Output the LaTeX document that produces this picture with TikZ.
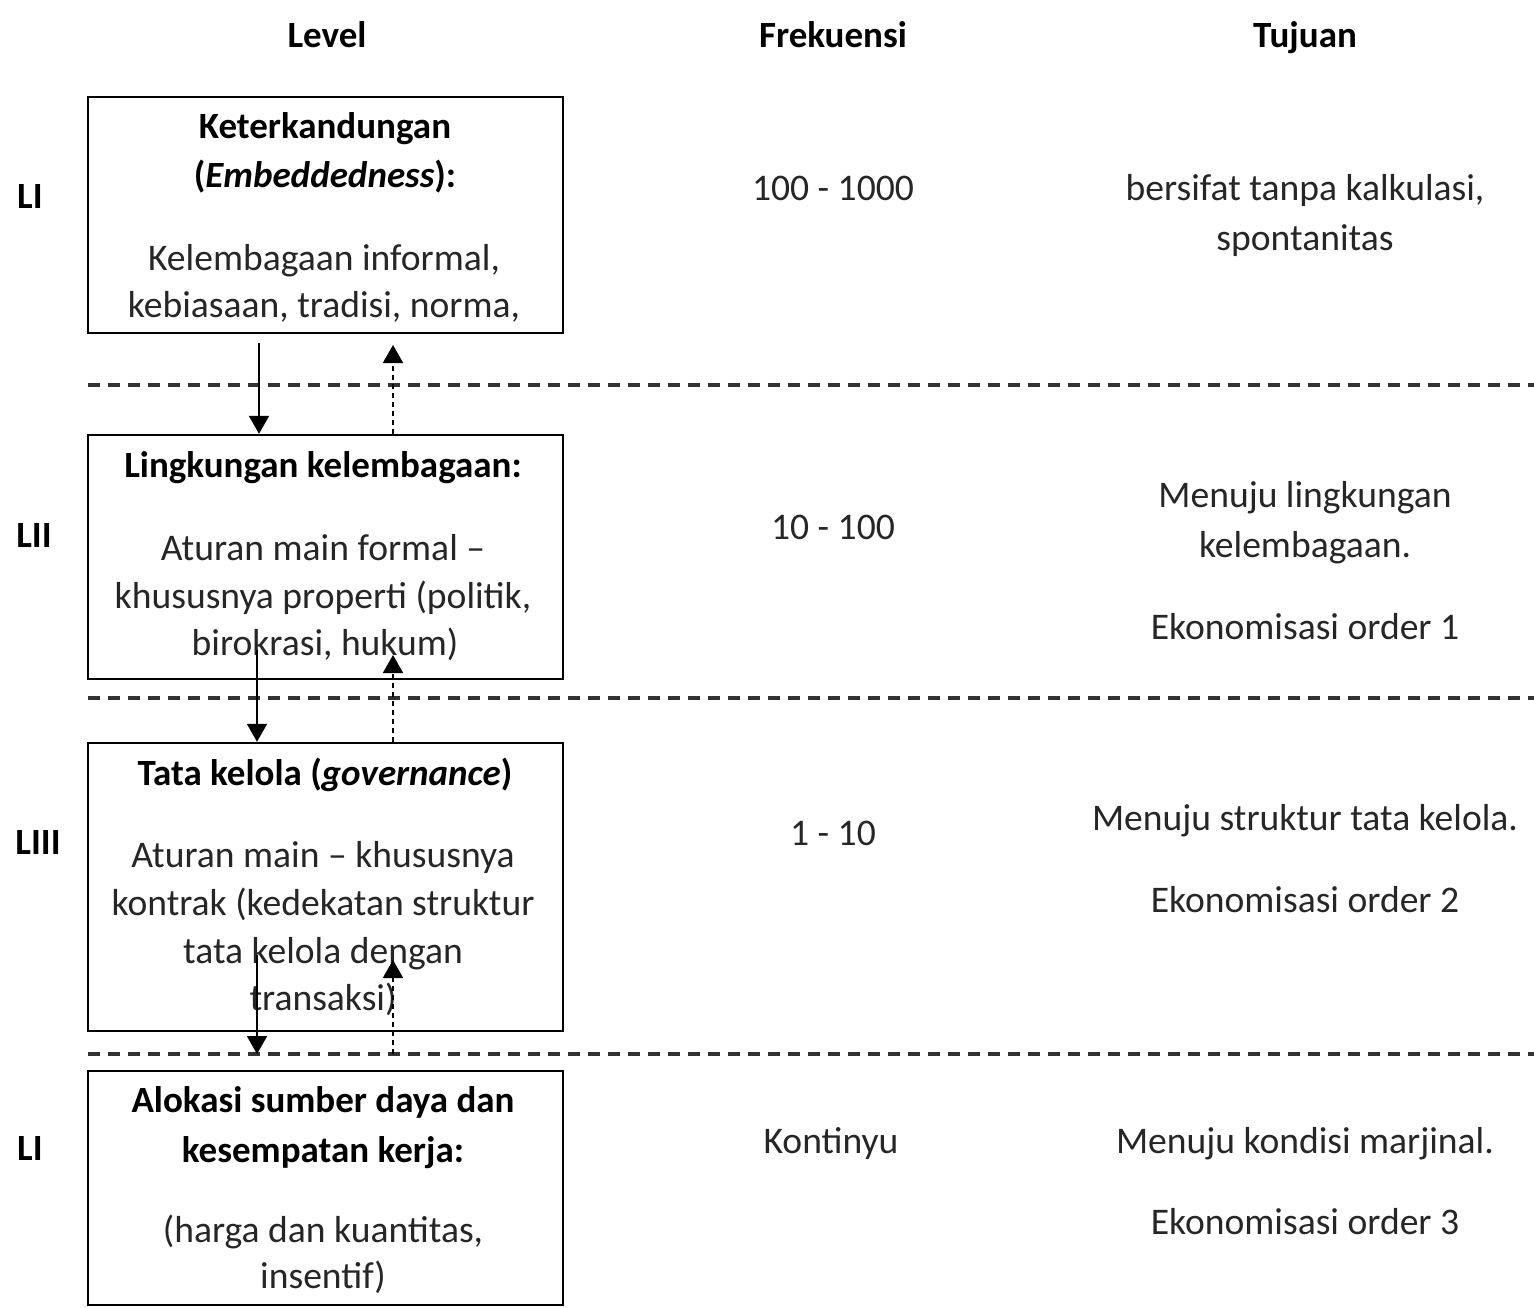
\documentclass[tikz,border=0pt]{standalone}
\usepackage{fontspec}
\setmainfont{Carlito}
\usetikzlibrary{arrows.meta}

\tikzset{
  levelbox/.style={draw,line width=1.2pt,minimum width=237.5pt,inner sep=0pt},
  txt/.style={font=\fontsize{18.8}{24}\selectfont,text=black!85,inner sep=0pt,
    text height=14pt,text depth=2pt},
  hd/.style={txt,font=\fontsize{18.5}{24}\selectfont\bfseries,text=black},
  sep/.style={line width=1.6pt,dash pattern=on 6pt off 4pt,black!80},
  down/.style={line width=0.9pt,-{Triangle[width=10pt,length=9pt]}},
  up/.style={line width=0.9pt,dash pattern=on 2.5pt off 2pt,-{Triangle[width=10pt,length=9pt]}}
}

\begin{document}
\begin{tikzpicture}[x=0.5pt,y=-0.5pt]
  \useasboundingbox (0,0) rectangle (1534,1307);

  % headings
  \node[hd] (hlevel) at (327,35) {Level};
  \node[hd] (hfrek) at (833,35) {Frekuensi};
  \node[hd] (htuj) at (1305,35) {Tujuan};

  % level labels
  \node[hd] (l1) at (30,196) {LI};
  \node[hd] (l2) at (34,535) {LII};
  \node[hd] (l3) at (38,842) {LIII};
  \node[hd] (l4) at (30,1148) {LI};

  % boxes
  \node[levelbox,minimum height=118pt] (box1) at (325.5,215) {};
  \node[levelbox,minimum height=122pt] (box2) at (325.5,557) {};
  \node[levelbox,minimum height=144pt] (box3) at (325.5,887) {};
  \node[levelbox,minimum height=117pt] (box4) at (325.5,1188) {};

  % box 1
  \node[hd] (b1a) at (325,126) {Keterkandungan};
  \node[hd] (b1b) at (325,175) {(\textit{Embeddedness}):};
  \node[txt] (b1c) at (324,258) {Kelembagaan informal,};
  \node[txt] (b1d) at (324,305) {kebiasaan, tradisi, norma,};

  % box 2
  \node[hd] (b2a) at (323,465) {Lingkungan kelembagaan:};
  \node[txt] (b2b) at (323,548) {Aturan main formal --};
  \node[txt] (b2c) at (323,596) {khususnya properti (politik,};
  \node[txt] (b2d) at (325,643) {birokrasi, hukum)};

  % box 3
  \node[hd] (b3a) at (325,773) {Tata kelola (\textit{governance})};
  \node[txt] (b3b) at (323,855) {Aturan main -- khususnya};
  \node[txt] (b3c) at (323,903) {kontrak (kedekatan struktur};
  \node[txt] (b3d) at (323,951) {tata kelola dengan};
  \node[txt] (b3e) at (323,998) {transaksi)};

  % box 4
  \node[hd] (b4a) at (323,1100) {Alokasi sumber daya dan};
  \node[hd] (b4b) at (323,1150) {kesempatan kerja:};
  \node[txt] (b4c) at (323,1230) {(harga dan kuantitas,};
  \node[txt] (b4d) at (323,1276) {insentif)};

  % frekuensi
  \node[txt] (f1) at (833,188) {100 - 1000};
  \node[txt] (f2) at (833,527) {10 - 100};
  \node[txt] (f3) at (833,833) {1 - 10};
  \node[txt] (f4) at (831,1141) {Kontinyu};

  % tujuan
  \node[txt] (t1a) at (1305,188) {bersifat tanpa kalkulasi,};
  \node[txt] (t1b) at (1305,238) {spontanitas};
  \node[txt] (t2a) at (1305,495) {Menuju lingkungan};
  \node[txt] (t2b) at (1305,545) {kelembagaan.};
  \node[txt] (t2c) at (1305,627) {Ekonomisasi order 1};
  \node[txt] (t3a) at (1305,818) {Menuju struktur tata kelola.};
  \node[txt] (t3b) at (1305,900) {Ekonomisasi order 2};
  \node[txt] (t4a) at (1305,1141) {Menuju kondisi marjinal.};
  \node[txt] (t4b) at (1305,1222) {Ekonomisasi order 3};

  % dashed separators
  \coordinate (s1) at (88,385);
  \coordinate (s2) at (88,698);
  \coordinate (s3) at (88,1054);
  \draw[sep] (s1) -- (1534,385);
  \draw[sep] (s2) -- (1534,698);
  \draw[sep] (s3) -- (1534,1054);

  % arrows
  \coordinate (d1) at (259,343);
  \coordinate (d2) at (257,650);
  \coordinate (d3) at (257,955);
  \coordinate (u1) at (393,345);
  \coordinate (u2) at (393,655);
  \coordinate (u3) at (393,960);
  \draw[down] (d1) -- (d1 |- box2.north);
  \draw[down] (d2) -- (d2 |- box3.north);
  \draw[down] (d3) -- (d3 |- s3);
  \draw[up] (u1 |- box2.north) -- (u1);
  \draw[up] (u2 |- box3.north) -- (u2);
  \draw[up] (u3 |- s3) -- (u3);
\end{tikzpicture}
\end{document}
